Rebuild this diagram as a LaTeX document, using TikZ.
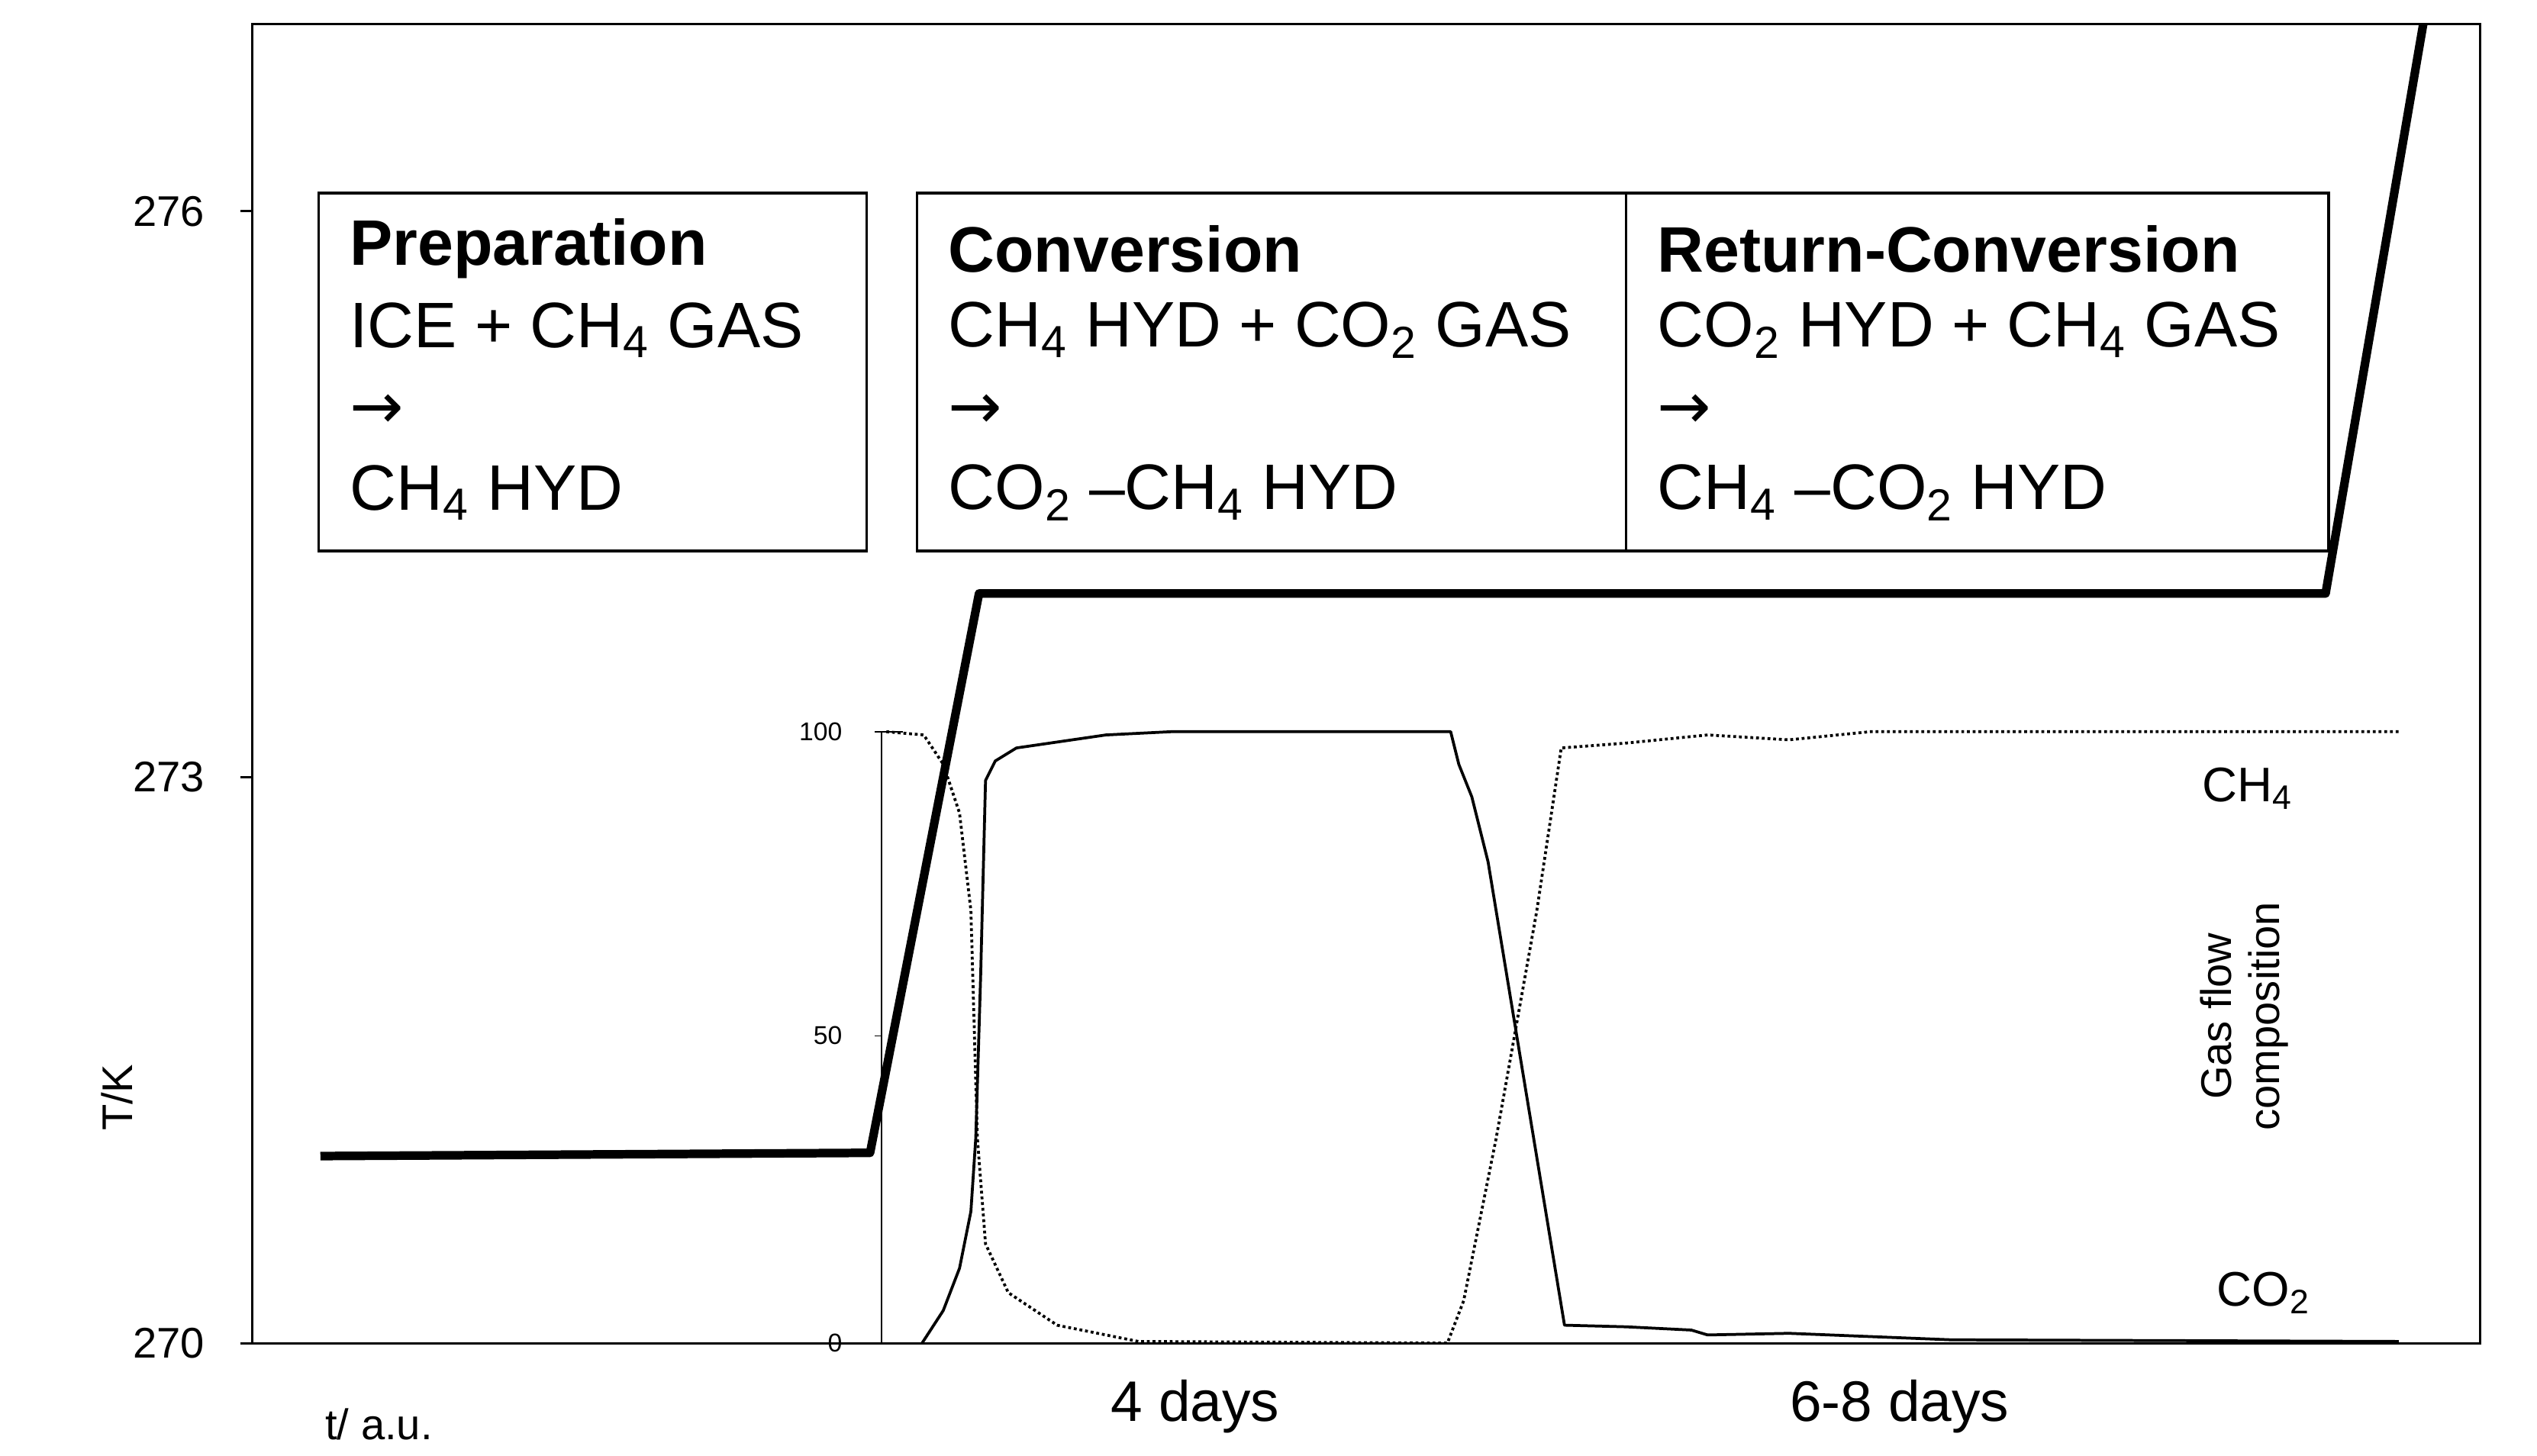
\documentclass[tikz,border=0pt]{standalone}
\usepackage{fontspec}
\setmainfont{Liberation Sans}
\newfontfamily\dvs{DejaVu Sans}
\newcommand{\sbs}[1]{\textsubscript{#1}}
\begin{document}
\begin{tikzpicture}[x=0.02cm,y=-0.02cm,
  box/.style={draw,line width=1pt,anchor=north west,minimum width=337*0.02cm,minimum height=220*0.02cm},
  lbl/.style={font=\fontsize{22.5}{26}\selectfont,anchor=west},
  tick/.style={font=\fontsize{15}{18}\selectfont,anchor=east},
  small/.style={font=\fontsize{9}{11}\selectfont,anchor=east}]
\useasboundingbox (0,0) rectangle (1560,895);
\fill[white] (0,0) rectangle (1560,895);
% frame
\draw[line width=0.8pt] (155,826) -- (155,15) -- (1525,15) -- (1525,826) -- cycle;
\foreach \y/\t in {130/276,478/273,826/270}{
  \draw[line width=0.8pt] (148,\y) -- (155,\y);
  \node[tick] (t\t) at (132,\y) {\t};}
\node[rotate=90,font=\fontsize{15}{18}\selectfont] (tk) at (72,675) {T/K};
\node[font=\fontsize{15}{18}\selectfont] (ta) at (233,876) {t/ a.u.};
\node[font=\fontsize{20}{24}\selectfont] (d4) at (735,865) {4 days};
\node[font=\fontsize{20}{24}\selectfont] (d68) at (1168,865) {6-8 days};
% boxes
\node[box] (b1) at (195,118) {};
\node[box,minimum width=436*0.02cm] (b2) at (563,118) {};
\node[box,minimum width=432*0.02cm] (b3) at (999,118) {};
\foreach \x/\a/\b/\c in {
 213/\textbf{Preparation}/ICE + CH\sbs{4} GAS/CH\sbs{4} HYD,
 581/\textbf{Conversion}/CH\sbs{4} HYD + CO\sbs{2} GAS/CO\sbs{2} –CH\sbs{4} HYD,
 1017/\textbf{Return-Conversion}/CO\sbs{2} HYD + CH\sbs{4} GAS/CH\sbs{4} –CO\sbs{2} HYD}{
 \node[lbl] at (\x-4,153) {\a};
 \node[lbl] at (\x-4,203) {\b};
 \node[lbl] at (\x-4,253) {{\dvs →}};
 \node[lbl] at (\x-4,303) {\c};}
% temperature
\draw[line width=3pt,line join=round] (197,711) -- (535,709) -- (602,365) -- (1430,365) -- (1490,15);
% inset
\draw[line width=0.6pt] (555,450) -- (542,450) -- (542,826) -- (1525,826);
\foreach \y/\t in {450/100,637/50,826/0}{
  \draw (538,\y) -- (542,\y);
  \node[small] at (524,\y) {\t};}
\draw[line width=1pt,line join=round] (567,826) -- (580,806) -- (590,780) -- (597,745) -- (600,700) -- (603,600) -- (606,480) -- (612,468) -- (625,460) -- (680,452) -- (720,450) -- (892,450) -- (897,470) -- (905,490) -- (915,530) -- (962,815) -- (1000,816) -- (1040,818) -- (1050,821) -- (1100,820) -- (1200,824) -- (1475,825);
\draw[line width=1pt,densely dotted,line join=round] (545,450) -- (568,452) -- (580,470) -- (590,500) -- (597,560) -- (601,700) -- (606,765) -- (620,795) -- (650,815) -- (700,825) -- (890,826) -- (900,800) -- (920,700) -- (945,560) -- (960,460) -- (1000,457) -- (1050,452) -- (1100,455) -- (1150,450) -- (1475,450);
\node[font=\fontsize{17}{20}\selectfont] (ch4) at (1382,485) {CH\sbs{4}};
\node[font=\fontsize{17}{20}\selectfont] (co2) at (1392,795) {CO\sbs{2}};
\node[rotate=90,font=\fontsize{15}{17}\selectfont,align=center] (gf) at (1380,625) {Gas flow\\composition};
\end{tikzpicture}
\end{document}
